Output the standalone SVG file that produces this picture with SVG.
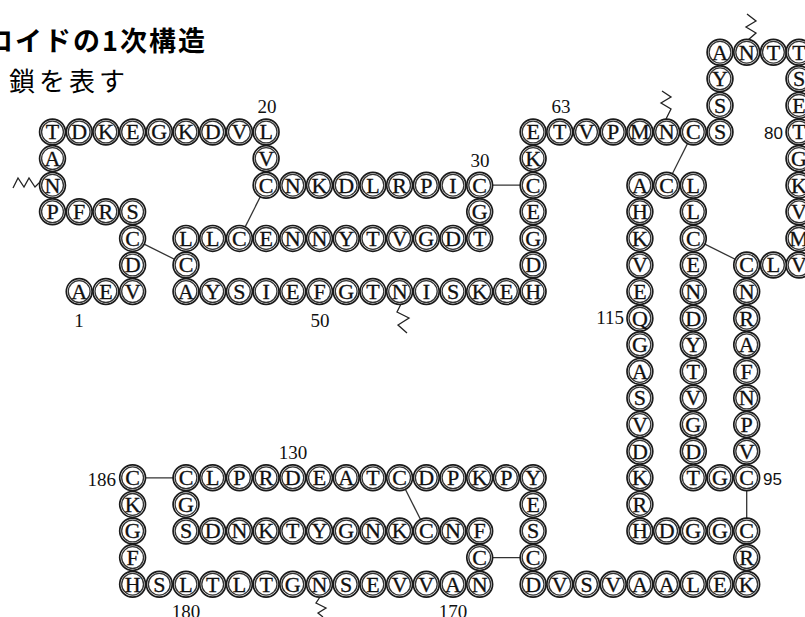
<svg xmlns="http://www.w3.org/2000/svg" width="805" height="617" viewBox="0 0 805 617">
<style>
.o{fill:#fff;stroke:#1a1a1a;stroke-width:1.7}
.i{fill:none;stroke:#333;stroke-width:1.3}
#nodes text{font-family:"Liberation Serif",serif;font-size:22px;text-anchor:middle;fill:#111;stroke:#111;stroke-width:0.3}
.lbl{font-family:"Liberation Serif",serif;font-size:19px;fill:#111}
.lbs{font-family:"Liberation Sans",sans-serif;font-size:17px;fill:#111}
.bond{stroke:#333;stroke-width:1.3;fill:none}
.zz{stroke:#222;stroke-width:1.3;fill:none;stroke-linejoin:miter}
.ttl{font-family:"Noto Sans CJK JP","Noto Sans",sans-serif;fill:#000}
</style>
<defs>
<g id="ring"><circle class="o" r="12.9"/><circle class="i" r="10.9"/></g>
</defs>
<rect width="805" height="617" fill="#fff"/>
<text class="ttl" x="-14" y="51" font-size="27" font-weight="bold" letter-spacing="2">ロイドの1次構造</text>
<text class="ttl" x="9" y="91" font-size="26" letter-spacing="4">鎖を表す</text>
<g id="connectors">
<line class="bond" x1="132.6" y1="238.4" x2="186" y2="265"/>
<line class="bond" x1="239.4" y1="238.4" x2="266.1" y2="185.2"/>
<line class="bond" x1="479.7" y1="185.2" x2="533.1" y2="185.2"/>
<line class="bond" x1="666.6" y1="185.2" x2="693.3" y2="132"/>
<line class="bond" x1="693.3" y1="238.4" x2="746.7" y2="265"/>
<line class="bond" x1="746.7" y1="477.8" x2="746.7" y2="531"/>
<line class="bond" x1="132.6" y1="477.8" x2="186" y2="477.8"/>
<line class="bond" x1="399.6" y1="477.8" x2="426.3" y2="531"/>
<line class="bond" x1="479.7" y1="557.6" x2="533.1" y2="557.6"/>
<path class="zz" d="M13,188 L18,178 L24,187 L29,178 L35,187 L43,179"/>
<path class="zz" d="M747,14 L756,21 L746,27 L756,33 L748,40"/>
<path class="zz" d="M662,91 L671,97 L661,103 L671,109 L666,119"/>
<path class="zz" d="M401,304 L397,312 L409,318 L398,325 L407,333"/>
<path class="zz" d="M320,597 L316,603 L326,608 L318,613 L323,617"/>
</g>
<g id="nodes">
<g id="a1" transform="translate(79.2,291.6)"><use href="#ring"/><text y="7.3">A</text></g>
<g id="a2" transform="translate(105.9,291.6)"><use href="#ring"/><text y="7.3">E</text></g>
<g id="a3" transform="translate(132.6,291.6)"><use href="#ring"/><text y="7.3">V</text></g>
<g id="a4" transform="translate(132.6,265)"><use href="#ring"/><text y="7.3">D</text></g>
<g id="a5" transform="translate(132.6,238.4)"><use href="#ring"/><text y="7.3">C</text></g>
<g id="a6" transform="translate(132.6,211.8)"><use href="#ring"/><text y="7.3">S</text></g>
<g id="a7" transform="translate(105.9,211.8)"><use href="#ring"/><text y="7.3">R</text></g>
<g id="a8" transform="translate(79.2,211.8)"><use href="#ring"/><text y="7.3">F</text></g>
<g id="a9" transform="translate(52.5,211.8)"><use href="#ring"/><text y="7.3">P</text></g>
<g id="a10" transform="translate(52.5,185.2)"><use href="#ring"/><text y="7.3">N</text></g>
<g id="a11" transform="translate(52.5,158.6)"><use href="#ring"/><text y="7.3">A</text></g>
<g id="a12" transform="translate(52.5,132)"><use href="#ring"/><text y="7.3">T</text></g>
<g id="a13" transform="translate(79.2,132)"><use href="#ring"/><text y="7.3">D</text></g>
<g id="a14" transform="translate(105.9,132)"><use href="#ring"/><text y="7.3">K</text></g>
<g id="a15" transform="translate(132.6,132)"><use href="#ring"/><text y="7.3">E</text></g>
<g id="a16" transform="translate(159.3,132)"><use href="#ring"/><text y="7.3">G</text></g>
<g id="a17" transform="translate(186,132)"><use href="#ring"/><text y="7.3">K</text></g>
<g id="a18" transform="translate(212.7,132)"><use href="#ring"/><text y="7.3">D</text></g>
<g id="a19" transform="translate(239.4,132)"><use href="#ring"/><text y="7.3">V</text></g>
<g id="a20" transform="translate(266.1,132)"><use href="#ring"/><text y="7.3">L</text></g>
<g id="a21" transform="translate(266.1,158.6)"><use href="#ring"/><text y="7.3">V</text></g>
<g id="a22" transform="translate(266.1,185.2)"><use href="#ring"/><text y="7.3">C</text></g>
<g id="a23" transform="translate(292.8,185.2)"><use href="#ring"/><text y="7.3">N</text></g>
<g id="a24" transform="translate(319.5,185.2)"><use href="#ring"/><text y="7.3">K</text></g>
<g id="a25" transform="translate(346.2,185.2)"><use href="#ring"/><text y="7.3">D</text></g>
<g id="a26" transform="translate(372.9,185.2)"><use href="#ring"/><text y="7.3">L</text></g>
<g id="a27" transform="translate(399.6,185.2)"><use href="#ring"/><text y="7.3">R</text></g>
<g id="a28" transform="translate(426.3,185.2)"><use href="#ring"/><text y="7.3">P</text></g>
<g id="a29" transform="translate(453,185.2)"><use href="#ring"/><text y="7.3">I</text></g>
<g id="a30" transform="translate(479.7,185.2)"><use href="#ring"/><text y="7.3">C</text></g>
<g id="a31" transform="translate(479.7,211.8)"><use href="#ring"/><text y="7.3">G</text></g>
<g id="a32" transform="translate(479.7,238.4)"><use href="#ring"/><text y="7.3">T</text></g>
<g id="a33" transform="translate(453,238.4)"><use href="#ring"/><text y="7.3">D</text></g>
<g id="a34" transform="translate(426.3,238.4)"><use href="#ring"/><text y="7.3">G</text></g>
<g id="a35" transform="translate(399.6,238.4)"><use href="#ring"/><text y="7.3">V</text></g>
<g id="a36" transform="translate(372.9,238.4)"><use href="#ring"/><text y="7.3">T</text></g>
<g id="a37" transform="translate(346.2,238.4)"><use href="#ring"/><text y="7.3">Y</text></g>
<g id="a38" transform="translate(319.5,238.4)"><use href="#ring"/><text y="7.3">N</text></g>
<g id="a39" transform="translate(292.8,238.4)"><use href="#ring"/><text y="7.3">N</text></g>
<g id="a40" transform="translate(266.1,238.4)"><use href="#ring"/><text y="7.3">E</text></g>
<g id="a41" transform="translate(239.4,238.4)"><use href="#ring"/><text y="7.3">C</text></g>
<g id="a42" transform="translate(212.7,238.4)"><use href="#ring"/><text y="7.3">L</text></g>
<g id="a43" transform="translate(186,238.4)"><use href="#ring"/><text y="7.3">L</text></g>
<g id="a44" transform="translate(186,265)"><use href="#ring"/><text y="7.3">C</text></g>
<g id="a45" transform="translate(186,291.6)"><use href="#ring"/><text y="7.3">A</text></g>
<g id="a46" transform="translate(212.7,291.6)"><use href="#ring"/><text y="7.3">Y</text></g>
<g id="a47" transform="translate(239.4,291.6)"><use href="#ring"/><text y="7.3">S</text></g>
<g id="a48" transform="translate(266.1,291.6)"><use href="#ring"/><text y="7.3">I</text></g>
<g id="a49" transform="translate(292.8,291.6)"><use href="#ring"/><text y="7.3">E</text></g>
<g id="a50" transform="translate(319.5,291.6)"><use href="#ring"/><text y="7.3">F</text></g>
<g id="a51" transform="translate(346.2,291.6)"><use href="#ring"/><text y="7.3">G</text></g>
<g id="a52" transform="translate(372.9,291.6)"><use href="#ring"/><text y="7.3">T</text></g>
<g id="a53" transform="translate(399.6,291.6)"><use href="#ring"/><text y="7.3">N</text></g>
<g id="a54" transform="translate(426.3,291.6)"><use href="#ring"/><text y="7.3">I</text></g>
<g id="a55" transform="translate(453,291.6)"><use href="#ring"/><text y="7.3">S</text></g>
<g id="a56" transform="translate(479.7,291.6)"><use href="#ring"/><text y="7.3">K</text></g>
<g id="a57" transform="translate(506.4,291.6)"><use href="#ring"/><text y="7.3">E</text></g>
<g id="a58" transform="translate(533.1,291.6)"><use href="#ring"/><text y="7.3">H</text></g>
<g id="a59" transform="translate(533.1,265)"><use href="#ring"/><text y="7.3">D</text></g>
<g id="a60" transform="translate(533.1,238.4)"><use href="#ring"/><text y="7.3">G</text></g>
<g id="a61" transform="translate(533.1,211.8)"><use href="#ring"/><text y="7.3">E</text></g>
<g id="a62" transform="translate(533.1,185.2)"><use href="#ring"/><text y="7.3">C</text></g>
<g id="a63" transform="translate(533.1,158.6)"><use href="#ring"/><text y="7.3">K</text></g>
<g id="a64" transform="translate(533.1,132)"><use href="#ring"/><text y="7.3">E</text></g>
<g id="a65" transform="translate(559.8,132)"><use href="#ring"/><text y="7.3">T</text></g>
<g id="a66" transform="translate(586.5,132)"><use href="#ring"/><text y="7.3">V</text></g>
<g id="a67" transform="translate(613.2,132)"><use href="#ring"/><text y="7.3">P</text></g>
<g id="a68" transform="translate(639.9,132)"><use href="#ring"/><text y="7.3">M</text></g>
<g id="a69" transform="translate(666.6,132)"><use href="#ring"/><text y="7.3">N</text></g>
<g id="a70" transform="translate(693.3,132)"><use href="#ring"/><text y="7.3">C</text></g>
<g id="a71" transform="translate(720,132)"><use href="#ring"/><text y="7.3">S</text></g>
<g id="a72" transform="translate(720,105.4)"><use href="#ring"/><text y="7.3">S</text></g>
<g id="a73" transform="translate(720,78.8)"><use href="#ring"/><text y="7.3">Y</text></g>
<g id="a74" transform="translate(720,52.2)"><use href="#ring"/><text y="7.3">A</text></g>
<g id="a75" transform="translate(746.7,52.2)"><use href="#ring"/><text y="7.3">N</text></g>
<g id="a76" transform="translate(773.4,52.2)"><use href="#ring"/><text y="7.3">T</text></g>
<g id="a77" transform="translate(799,52.2)"><use href="#ring"/><text y="7.3">T</text></g>
<g id="a78" transform="translate(799,78.8)"><use href="#ring"/><text y="7.3">S</text></g>
<g id="a79" transform="translate(799,105.4)"><use href="#ring"/><text y="7.3">E</text></g>
<g id="a80" transform="translate(799,132)"><use href="#ring"/><text y="7.3">T</text></g>
<g id="a81" transform="translate(799,158.6)"><use href="#ring"/><text y="7.3">G</text></g>
<g id="a82" transform="translate(799,185.2)"><use href="#ring"/><text y="7.3">K</text></g>
<g id="a83" transform="translate(799,211.8)"><use href="#ring"/><text y="7.3">V</text></g>
<g id="a84" transform="translate(799,238.4)"><use href="#ring"/><text y="7.3">M</text></g>
<g id="a85" transform="translate(799,265)"><use href="#ring"/><text y="7.3">V</text></g>
<g id="a86" transform="translate(773.4,265)"><use href="#ring"/><text y="7.3">L</text></g>
<g id="a87" transform="translate(746.7,265)"><use href="#ring"/><text y="7.3">C</text></g>
<g id="a88" transform="translate(746.7,291.6)"><use href="#ring"/><text y="7.3">N</text></g>
<g id="a89" transform="translate(746.7,318.2)"><use href="#ring"/><text y="7.3">R</text></g>
<g id="a90" transform="translate(746.7,344.8)"><use href="#ring"/><text y="7.3">A</text></g>
<g id="a91" transform="translate(746.7,371.4)"><use href="#ring"/><text y="7.3">F</text></g>
<g id="a92" transform="translate(746.7,398)"><use href="#ring"/><text y="7.3">N</text></g>
<g id="a93" transform="translate(746.7,424.6)"><use href="#ring"/><text y="7.3">P</text></g>
<g id="a94" transform="translate(746.7,451.2)"><use href="#ring"/><text y="7.3">V</text></g>
<g id="a95" transform="translate(746.7,477.8)"><use href="#ring"/><text y="7.3">C</text></g>
<g id="a96" transform="translate(720,477.8)"><use href="#ring"/><text y="7.3">G</text></g>
<g id="a97" transform="translate(693.3,477.8)"><use href="#ring"/><text y="7.3">T</text></g>
<g id="a98" transform="translate(693.3,451.2)"><use href="#ring"/><text y="7.3">D</text></g>
<g id="a99" transform="translate(693.3,424.6)"><use href="#ring"/><text y="7.3">G</text></g>
<g id="a100" transform="translate(693.3,398)"><use href="#ring"/><text y="7.3">V</text></g>
<g id="a101" transform="translate(693.3,371.4)"><use href="#ring"/><text y="7.3">T</text></g>
<g id="a102" transform="translate(693.3,344.8)"><use href="#ring"/><text y="7.3">Y</text></g>
<g id="a103" transform="translate(693.3,318.2)"><use href="#ring"/><text y="7.3">D</text></g>
<g id="a104" transform="translate(693.3,291.6)"><use href="#ring"/><text y="7.3">N</text></g>
<g id="a105" transform="translate(693.3,265)"><use href="#ring"/><text y="7.3">E</text></g>
<g id="a106" transform="translate(693.3,238.4)"><use href="#ring"/><text y="7.3">C</text></g>
<g id="a107" transform="translate(693.3,211.8)"><use href="#ring"/><text y="7.3">L</text></g>
<g id="a108" transform="translate(693.3,185.2)"><use href="#ring"/><text y="7.3">L</text></g>
<g id="a109" transform="translate(666.6,185.2)"><use href="#ring"/><text y="7.3">C</text></g>
<g id="a110" transform="translate(639.9,185.2)"><use href="#ring"/><text y="7.3">A</text></g>
<g id="a111" transform="translate(639.9,211.8)"><use href="#ring"/><text y="7.3">H</text></g>
<g id="a112" transform="translate(639.9,238.4)"><use href="#ring"/><text y="7.3">K</text></g>
<g id="a113" transform="translate(639.9,265)"><use href="#ring"/><text y="7.3">V</text></g>
<g id="a114" transform="translate(639.9,291.6)"><use href="#ring"/><text y="7.3">E</text></g>
<g id="a115" transform="translate(639.9,318.2)"><use href="#ring"/><text y="7.3">Q</text></g>
<g id="a116" transform="translate(639.9,344.8)"><use href="#ring"/><text y="7.3">G</text></g>
<g id="a117" transform="translate(639.9,371.4)"><use href="#ring"/><text y="7.3">A</text></g>
<g id="a118" transform="translate(639.9,398)"><use href="#ring"/><text y="7.3">S</text></g>
<g id="a119" transform="translate(639.9,424.6)"><use href="#ring"/><text y="7.3">V</text></g>
<g id="a120" transform="translate(639.9,451.2)"><use href="#ring"/><text y="7.3">D</text></g>
<g id="a121" transform="translate(639.9,477.8)"><use href="#ring"/><text y="7.3">K</text></g>
<g id="a122" transform="translate(639.9,504.4)"><use href="#ring"/><text y="7.3">R</text></g>
<g id="a123" transform="translate(639.9,531)"><use href="#ring"/><text y="7.3">H</text></g>
<g id="a124" transform="translate(666.6,531)"><use href="#ring"/><text y="7.3">D</text></g>
<g id="a125" transform="translate(693.3,531)"><use href="#ring"/><text y="7.3">G</text></g>
<g id="a126" transform="translate(720,531)"><use href="#ring"/><text y="7.3">G</text></g>
<g id="a127" transform="translate(746.7,531)"><use href="#ring"/><text y="7.3">C</text></g>
<g id="a128" transform="translate(746.7,557.6)"><use href="#ring"/><text y="7.3">R</text></g>
<g id="a129" transform="translate(746.7,584.2)"><use href="#ring"/><text y="7.3">K</text></g>
<g id="a130" transform="translate(720,584.2)"><use href="#ring"/><text y="7.3">E</text></g>
<g id="a131" transform="translate(693.3,584.2)"><use href="#ring"/><text y="7.3">L</text></g>
<g id="a132" transform="translate(666.6,584.2)"><use href="#ring"/><text y="7.3">A</text></g>
<g id="a133" transform="translate(639.9,584.2)"><use href="#ring"/><text y="7.3">A</text></g>
<g id="a134" transform="translate(613.2,584.2)"><use href="#ring"/><text y="7.3">V</text></g>
<g id="a135" transform="translate(586.5,584.2)"><use href="#ring"/><text y="7.3">S</text></g>
<g id="a136" transform="translate(559.8,584.2)"><use href="#ring"/><text y="7.3">V</text></g>
<g id="a137" transform="translate(533.1,584.2)"><use href="#ring"/><text y="7.3">D</text></g>
<g id="a138" transform="translate(533.1,557.6)"><use href="#ring"/><text y="7.3">C</text></g>
<g id="a139" transform="translate(533.1,531)"><use href="#ring"/><text y="7.3">S</text></g>
<g id="a140" transform="translate(533.1,504.4)"><use href="#ring"/><text y="7.3">E</text></g>
<g id="a141" transform="translate(533.1,477.8)"><use href="#ring"/><text y="7.3">Y</text></g>
<g id="a142" transform="translate(506.4,477.8)"><use href="#ring"/><text y="7.3">P</text></g>
<g id="a143" transform="translate(479.7,477.8)"><use href="#ring"/><text y="7.3">K</text></g>
<g id="a144" transform="translate(453,477.8)"><use href="#ring"/><text y="7.3">P</text></g>
<g id="a145" transform="translate(426.3,477.8)"><use href="#ring"/><text y="7.3">D</text></g>
<g id="a146" transform="translate(399.6,477.8)"><use href="#ring"/><text y="7.3">C</text></g>
<g id="a147" transform="translate(372.9,477.8)"><use href="#ring"/><text y="7.3">T</text></g>
<g id="a148" transform="translate(346.2,477.8)"><use href="#ring"/><text y="7.3">A</text></g>
<g id="a149" transform="translate(319.5,477.8)"><use href="#ring"/><text y="7.3">E</text></g>
<g id="a150" transform="translate(292.8,477.8)"><use href="#ring"/><text y="7.3">D</text></g>
<g id="a151" transform="translate(266.1,477.8)"><use href="#ring"/><text y="7.3">R</text></g>
<g id="a152" transform="translate(239.4,477.8)"><use href="#ring"/><text y="7.3">P</text></g>
<g id="a153" transform="translate(212.7,477.8)"><use href="#ring"/><text y="7.3">L</text></g>
<g id="a154" transform="translate(186,477.8)"><use href="#ring"/><text y="7.3">C</text></g>
<g id="a155" transform="translate(186,504.4)"><use href="#ring"/><text y="7.3">G</text></g>
<g id="a156" transform="translate(186,531)"><use href="#ring"/><text y="7.3">S</text></g>
<g id="a157" transform="translate(212.7,531)"><use href="#ring"/><text y="7.3">D</text></g>
<g id="a158" transform="translate(239.4,531)"><use href="#ring"/><text y="7.3">N</text></g>
<g id="a159" transform="translate(266.1,531)"><use href="#ring"/><text y="7.3">K</text></g>
<g id="a160" transform="translate(292.8,531)"><use href="#ring"/><text y="7.3">T</text></g>
<g id="a161" transform="translate(319.5,531)"><use href="#ring"/><text y="7.3">Y</text></g>
<g id="a162" transform="translate(346.2,531)"><use href="#ring"/><text y="7.3">G</text></g>
<g id="a163" transform="translate(372.9,531)"><use href="#ring"/><text y="7.3">N</text></g>
<g id="a164" transform="translate(399.6,531)"><use href="#ring"/><text y="7.3">K</text></g>
<g id="a165" transform="translate(426.3,531)"><use href="#ring"/><text y="7.3">C</text></g>
<g id="a166" transform="translate(453,531)"><use href="#ring"/><text y="7.3">N</text></g>
<g id="a167" transform="translate(479.7,531)"><use href="#ring"/><text y="7.3">F</text></g>
<g id="a168" transform="translate(479.7,557.6)"><use href="#ring"/><text y="7.3">C</text></g>
<g id="a169" transform="translate(479.7,584.2)"><use href="#ring"/><text y="7.3">N</text></g>
<g id="a170" transform="translate(453,584.2)"><use href="#ring"/><text y="7.3">A</text></g>
<g id="a171" transform="translate(426.3,584.2)"><use href="#ring"/><text y="7.3">V</text></g>
<g id="a172" transform="translate(399.6,584.2)"><use href="#ring"/><text y="7.3">V</text></g>
<g id="a173" transform="translate(372.9,584.2)"><use href="#ring"/><text y="7.3">E</text></g>
<g id="a174" transform="translate(346.2,584.2)"><use href="#ring"/><text y="7.3">S</text></g>
<g id="a175" transform="translate(319.5,584.2)"><use href="#ring"/><text y="7.3">N</text></g>
<g id="a176" transform="translate(292.8,584.2)"><use href="#ring"/><text y="7.3">G</text></g>
<g id="a177" transform="translate(266.1,584.2)"><use href="#ring"/><text y="7.3">T</text></g>
<g id="a178" transform="translate(239.4,584.2)"><use href="#ring"/><text y="7.3">L</text></g>
<g id="a179" transform="translate(212.7,584.2)"><use href="#ring"/><text y="7.3">T</text></g>
<g id="a180" transform="translate(186,584.2)"><use href="#ring"/><text y="7.3">L</text></g>
<g id="a181" transform="translate(159.3,584.2)"><use href="#ring"/><text y="7.3">S</text></g>
<g id="a182" transform="translate(132.6,584.2)"><use href="#ring"/><text y="7.3">H</text></g>
<g id="a183" transform="translate(132.6,557.6)"><use href="#ring"/><text y="7.3">F</text></g>
<g id="a184" transform="translate(132.6,531)"><use href="#ring"/><text y="7.3">G</text></g>
<g id="a185" transform="translate(132.6,504.4)"><use href="#ring"/><text y="7.3">K</text></g>
<g id="a186" transform="translate(132.6,477.8)"><use href="#ring"/><text y="7.3">C</text></g>
</g>
<g id="labels">
<text class="lbl" x="79" y="327" text-anchor="middle">1</text>
<text class="lbl" x="267" y="113" text-anchor="middle">20</text>
<text class="lbl" x="480" y="167" text-anchor="middle">30</text>
<text class="lbl" x="320" y="327" text-anchor="middle">50</text>
<text class="lbl" x="561" y="113" text-anchor="middle">63</text>
<text class="lbs" x="783" y="139" text-anchor="end">80</text>
<text class="lbs" x="763" y="485" text-anchor="start">95</text>
<text class="lbl" x="624" y="324" text-anchor="end">115</text>
<text class="lbl" x="293" y="459" text-anchor="middle">130</text>
<text class="lbl" x="453" y="618" text-anchor="middle">170</text>
<text class="lbl" x="186" y="618" text-anchor="middle">180</text>
<text class="lbl" x="116" y="486" text-anchor="end">186</text>
</g>
</svg>
